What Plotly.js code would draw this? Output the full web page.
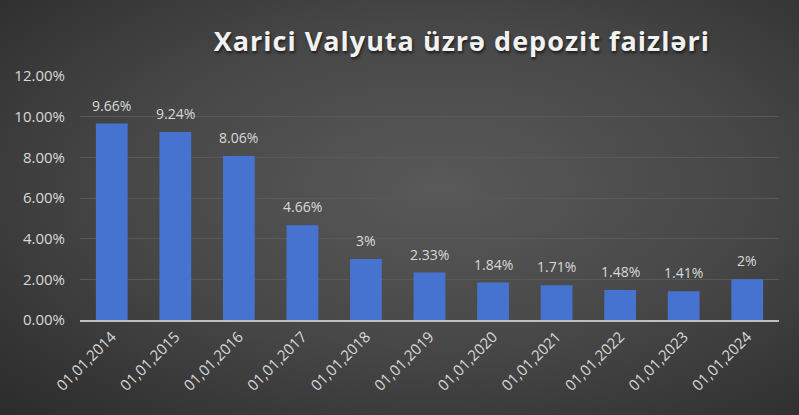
<!DOCTYPE html>
<html>
<head>
<meta charset="utf-8">
<script src="https://cdn.plot.ly/plotly-3.0.1.min.js"></script>
<style>
  html, body { margin:0; padding:0; }
  #myDiv {
    width:799px; height:415px;
    background: radial-gradient(ellipse at 55% 45%, #595959 0%, #474747 50%, #2b2b2b 100%);
  }
  .gtitle { letter-spacing: 1px; }
</style>
</head>
<body>
<div id="myDiv"></div>
<script>
// deposit rates on foreign currency, by date
var dates = ['01,01,2014','01,01,2015','01,01,2016','01,01,2017','01,01,2018','01,01,2019',
             '01,01,2020','01,01,2021','01,01,2022','01,01,2023','01,01,2024'];
var rates = [0.0966, 0.0924, 0.0806, 0.0466, 0.03, 0.0233, 0.0184, 0.0171, 0.0148, 0.0141, 0.02];
var rateLabels = ['9.66%','9.24%','8.06%','4.66%','3%','2.33%','1.84%','1.71%','1.48%','1.41%','2%'];
var yTicks = [0, 0.02, 0.04, 0.06, 0.08, 0.10, 0.12];

var txtColor = '#d9d9d9';

var trace = {
  x: dates,
  y: rates,
  type: 'bar',
  marker: { color: '#4673cf', line: { width: 0 } },
  hoverinfo: 'x+y'
};

// value labels a bit above each bar
var labels = dates.map(function(d, i) {
  return { x: d, y: rates[i], text: rateLabels[i], showarrow: false,
           yanchor: 'bottom', yshift: 7,
           font: { family: 'Open Sans, sans-serif', size: 14, color: txtColor } };
});

var layout = {
  width: 799,
  height: 415,
  paper_bgcolor: 'rgba(0,0,0,0)',
  plot_bgcolor: 'rgba(0,0,0,0)',
  margin: { l: 80, r: 20, t: 76, b: 95 },
  bargap: 0.5,
  showlegend: false,
  annotations: labels,
  title: {
    text: '<b>Xarici Valyuta üzrə depozit faizləri</b>',
    font: { family: 'Open Sans, sans-serif', size: 27, color: '#f2f2f2', shadow: '1px 2px 3px #1a1a1a' },
    xref: 'container', x: 0.578, xanchor: 'center',
    yref: 'container', y: 0.9, yanchor: 'middle'
  },
  font: { family: 'Open Sans, sans-serif', color: txtColor },
  yaxis: {
    range: [0, 0.12],
    tickvals: yTicks,
    tickformat: '.2%',
    tickfont: { size: 15, color: txtColor },
    ticklabelstandoff: 14,
    showgrid: true,
    gridcolor: '#595959',
    gridwidth: 1,
    zeroline: false,
    showline: false,
    ticks: '',
    ticklen: 0
  },
  xaxis: {
    type: 'category',
    tickangle: -45,
    tickfont: { size: 15, color: txtColor },
    showline: true,
    linecolor: '#bfbfbf',
    linewidth: 2,
    ticks: '',
    showgrid: false
  }
};

var config = { displayModeBar: false, responsive: false };

Plotly.newPlot('myDiv', [trace], layout, config);
</script>
</body>
</html>
